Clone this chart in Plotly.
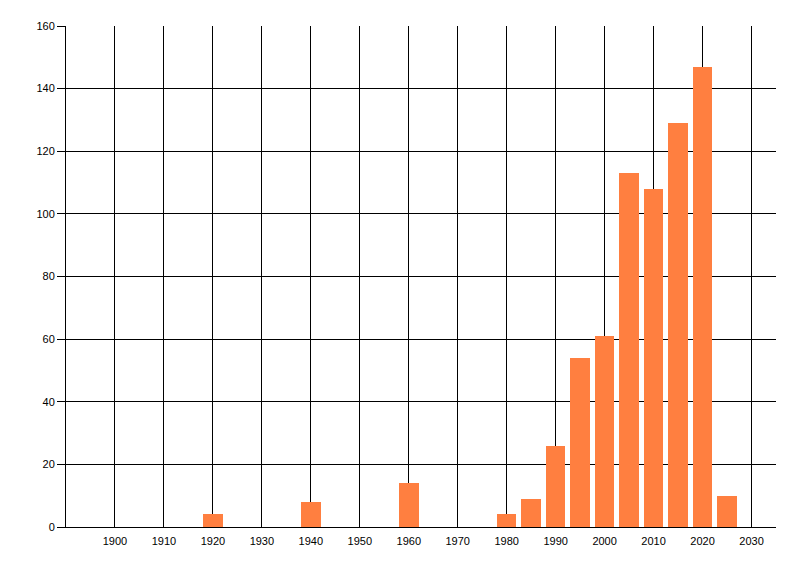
import plotly.graph_objects as go

# decade-ish buckets and counts
years = [1920, 1940, 1960, 1980, 1985, 1990, 1995, 2000, 2005, 2010, 2015, 2020, 2025]
counts = [4, 8, 14, 4, 9, 26, 54, 61, 113, 108, 129, 147, 10]

x_ticks = list(range(1900, 2031, 10))
y_ticks = list(range(0, 161, 20))

bar_color = '#ff7f40'

fig = go.Figure()
fig.add_trace(
    go.Bar(
        x=years,
        y=counts,
        width=4,
        marker=dict(color=bar_color, line=dict(width=0)),
        showlegend=False
    )
)

# page has an 8px body offset, so margins are shifted to line up with the reference
fig.update_layout(
    width=800,
    height=576,
    margin=dict(l=58, r=32, t=18, b=57),
    plot_bgcolor='white',
    paper_bgcolor='white',
    font=dict(family='Liberation Sans, Arial, sans-serif', size=11, color='black'),
    bargap=0
)

fig.update_xaxes(
    range=[1890, 2035],
    tickmode='array',
    tickvals=x_ticks,
    ticks='',
    ticklabelstandoff=4,
    showgrid=True,
    gridcolor='black',
    gridwidth=1,
    showline=True,
    linecolor='black',
    linewidth=1,
    zeroline=False
)
fig.update_yaxes(
    range=[0, 160],
    tickmode='array',
    tickvals=y_ticks,
    ticks='outside',
    ticklen=8,
    tickcolor='black',
    showgrid=True,
    gridcolor='black',
    gridwidth=1,
    showline=True,
    linecolor='black',
    linewidth=1,
    zeroline=False
)

fig.write_html("out.html")
